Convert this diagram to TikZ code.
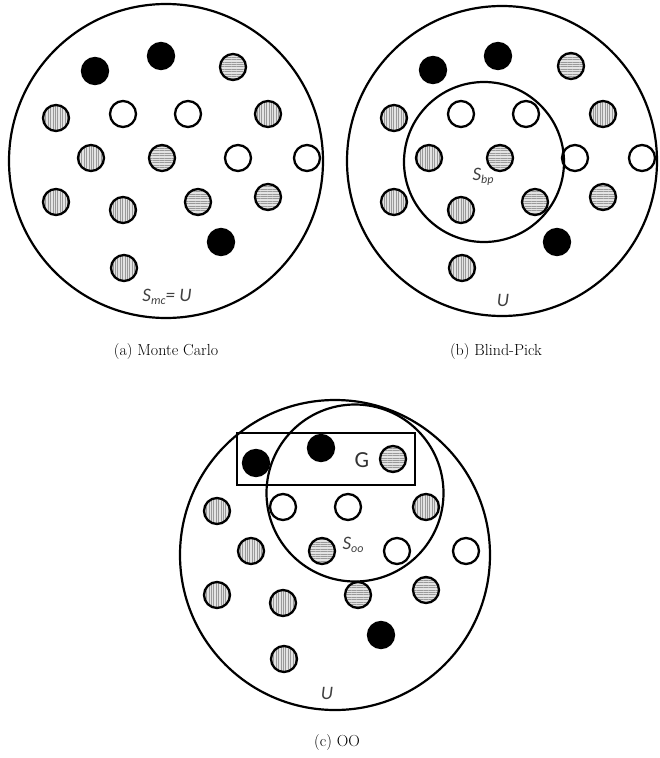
\documentclass[tikz,border=0pt]{standalone}
\usepackage{fontspec}
\newfontfamily\lab{Carlito}
\usetikzlibrary{patterns.meta}
\begin{document}
\begin{tikzpicture}[x=1pt,y=-1pt,
  ball/.style={circle, draw, line width=2.3pt, minimum size=26pt, inner sep=0pt},
  wball/.style={ball, fill=white},
  kball/.style={ball, fill=black},
  hball/.style={ball, preaction={fill=gray!22}, pattern={Lines[angle=0,distance=2.4pt,line width=0.6pt]}, pattern color=gray!80},
  vball/.style={ball, preaction={fill=gray!22}, pattern={Lines[angle=90,distance=2.4pt,line width=0.6pt]}, pattern color=gray!80},
  bigc/.style={circle, draw, line width=2.2pt, inner sep=0pt},
  setlab/.style={font=\lab\fontsize{19}{22}\selectfont\itshape, text=black!75},
  captext/.style={font=\fontsize{16}{19}\selectfont}]
\useasboundingbox (0,0) rectangle (659,758);

% ---------- (a) Monte Carlo ----------
\node[kball] (a1) at (95,71) {};
\node[kball] (a2) at (161,56) {};
\node[hball] (a3) at (233,67) {};
\node[vball] (a4) at (56,118) {};
\node[wball] (a5) at (123,114) {};
\node[wball] (a6) at (188,114) {};
\node[vball] (a7) at (268,114) {};
\node[vball] (a8) at (91,158) {};
\node[hball] (a9) at (162,158) {};
\node[wball] (a10) at (238,158) {};
\node[wball] (a11) at (307,158) {};
\node[vball] (a12) at (56,202) {};
\node[vball] (a13) at (123,210) {};
\node[hball] (a14) at (198,202) {};
\node[hball] (a15) at (268,197) {};
\node[kball] (a16) at (221,242) {};
\node[vball] (a17) at (124,268) {};
\node[bigc, minimum size=314pt] (Ua) at (166,161) {};
\node[setlab] (La) at (167,297) {S\raisebox{-0.35ex}{\fontsize{12}{14}\selectfont mc}= U};
\node[captext] (Ca) at (166,352) {(a) Monte Carlo};

% ---------- (b) Blind-Pick ----------
\node[kball] (b1) at (433,70) {};
\node[kball] (b2) at (498,56) {};
\node[hball] (b3) at (571,66) {};
\node[vball] (b4) at (394,118) {};
\node[wball] (b5) at (461,114) {};
\node[wball] (b6) at (526,114) {};
\node[vball] (b7) at (603,114) {};
\node[vball] (b8) at (429,158) {};
\node[hball] (b9) at (500,158) {};
\node[wball] (b10) at (575,158) {};
\node[wball] (b11) at (642,158) {};
\node[vball] (b12) at (394,202) {};
\node[vball] (b13) at (461,210) {};
\node[hball] (b14) at (535,202) {};
\node[hball] (b15) at (603,197) {};
\node[kball] (b16) at (557,242) {};
\node[vball] (b17) at (462,268) {};
\node[bigc, minimum size=310pt] (Ub) at (502,161) {};
\node[bigc, minimum size=160pt] (Sb) at (484,162) {};
\node[setlab] (Lsb) at (483,177) {S\raisebox{-0.35ex}{\fontsize{12}{14}\selectfont bp}};
\node[setlab] (Lub) at (503,300) {U};
\node[captext] (Cb) at (496,352) {(b) Blind-Pick};

% ---------- (c) OO ----------
\node[kball] (c1) at (256,463) {};
\node[kball] (c2) at (321,448) {};
\node[hball] (c3) at (393,459) {};
\node[vball] (c4) at (217,511) {};
\node[wball] (c5) at (283,507) {};
\node[wball] (c6) at (348,507) {};
\node[vball] (c7) at (426,507) {};
\node[vball] (c8) at (251,551) {};
\node[hball] (c9) at (322,551) {};
\node[wball] (c10) at (397,551) {};
\node[wball] (c11) at (466,551) {};
\node[vball] (c12) at (217,595) {};
\node[vball] (c13) at (283,603) {};
\node[hball] (c14) at (358,595) {};
\node[hball] (c15) at (426,590) {};
\node[kball] (c16) at (381,635) {};
\node[vball] (c17) at (284,659) {};
\node[bigc, minimum size=310pt] (Uc) at (335,555) {};
\node[bigc, minimum size=177pt] (So) at (355,493) {};
\node[draw, line width=2.8pt, minimum width=178pt, minimum height=52pt, inner sep=0pt] (G) at (326,459) {};
\node[font=\lab\fontsize{23}{26}\selectfont, text=black!80] (LG) at (362,460) {G};
\node[setlab] (Lso) at (353,545) {S\raisebox{-0.35ex}{\fontsize{12}{14}\selectfont oo}};
\node[setlab] (Luc) at (327,693) {U};
\node[captext] (Cc) at (337,742) {(c) OO};
\end{tikzpicture}
\end{document}
